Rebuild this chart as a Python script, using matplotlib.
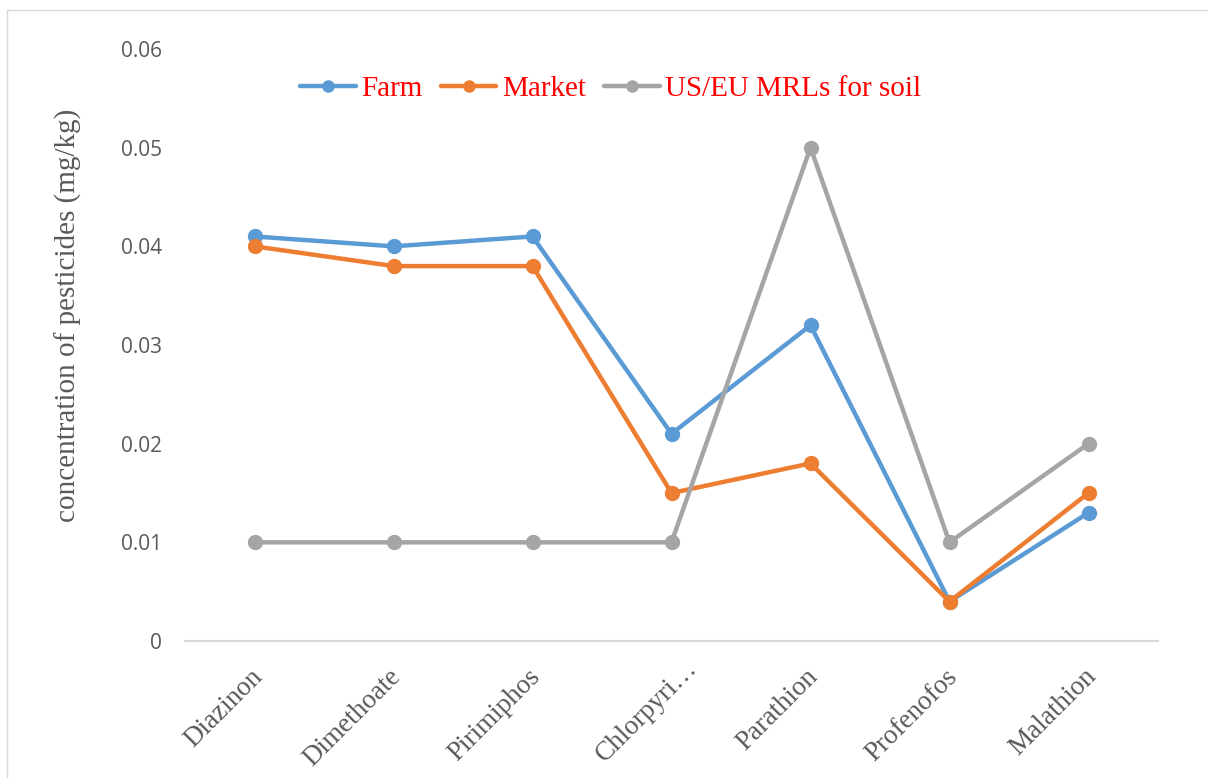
import numpy as np
import matplotlib.pyplot as plt
import matplotlib.transforms as mtransforms
from matplotlib.lines import Line2D

# pesticide residues in soil samples (mg/kg)
pesticides = ['Diazinon', 'Dimethoate', 'Pirimiphos', 'Chlorpyri…',
              'Parathion', 'Profenofos', 'Malathion']
farm = [0.041, 0.040, 0.041, 0.021, 0.032, 0.004, 0.013]
market = [0.040, 0.038, 0.038, 0.015, 0.018, 0.004, 0.015]
mrl_soil = [0.01, 0.01, 0.01, 0.01, 0.05, 0.01, 0.02]
yticks = [0, 0.01, 0.02, 0.03, 0.04, 0.05, 0.06]
ytick_labels = ['0', '0.01', '0.02', '0.03', '0.04', '0.05', '0.06']

W, H = 1208, 778
fig = plt.figure(figsize=(W / 100, H / 100), dpi=100)
ax = fig.add_axes([185 / W, 1 - 641 / H, (1158 - 185) / W, (641 - 49) / H])

x = np.arange(len(pesticides))
series = [(farm, '#5B9BD5', 'Farm'),
          (market, '#ED7D31', 'Market'),
          (mrl_soil, '#A5A5A5', 'US/EU MRLs for soil')]
for vals, col, lab in series:
    ax.plot(x, vals, color=col, lw=3.2, marker='o', ms=10, label=lab,
            solid_capstyle='round', zorder=3)

ax.set_xlim(-0.5, len(pesticides) - 0.5)
ax.set_ylim(0, 0.06)
ax.set_yticks(yticks)
ax.set_yticklabels(ytick_labels, fontfamily='Open Sans', fontsize=15, color='#595959')
ax.set_xticks(x)
ax.set_xticklabels([])
ax.tick_params(axis='both', length=0)
ax.tick_params(axis='y', pad=16.5)
for s in ['top', 'right', 'left']:
    ax.spines[s].set_visible(False)
ax.spines['bottom'].set_color('#D9D9D9')
ax.spines['bottom'].set_linewidth(1.5)

# slanted category names, right end just past each tick
base = ax.get_xaxis_transform()
for xi, name in zip(x, pesticides):
    dx, dy = (4, -32) if not name.endswith('…') else (22, -24)
    off = mtransforms.ScaledTranslation(dx / 100, dy / 100, fig.dpi_scale_trans)
    ax.text(xi, 0, name, transform=base + off, rotation=45, ha='right', va='center',
            rotation_mode='anchor', fontfamily='Liberation Serif', fontsize=19.5,
            color='#595959', clip_on=False)

fig.text(68 / W, 1 - 315 / H, 'concentration of pesticides (mg/kg)', rotation=90,
         ha='center', va='center', fontfamily='Liberation Serif', fontsize=21,
         color='#595959')

leg = fig.legend(loc='center', bbox_to_anchor=(611 / W, 1 - 89 / H), ncol=3,
                 frameon=False, prop={'family': 'Liberation Serif', 'size': 21},
                 handlelength=1.9, handletextpad=0.2, columnspacing=0.62,
                 markerscale=0.8)
for t in leg.get_texts():
    t.set_color('red')

# outer chart frame
fig.add_artist(Line2D([7 / W, 7 / W], [0, 1 - 10 / H], color='#D9D9D9', lw=1))
fig.add_artist(Line2D([7 / W, 1], [1 - 10 / H, 1 - 10 / H], color='#D9D9D9', lw=1))

fig.savefig('out.png', dpi=100, facecolor='white')
